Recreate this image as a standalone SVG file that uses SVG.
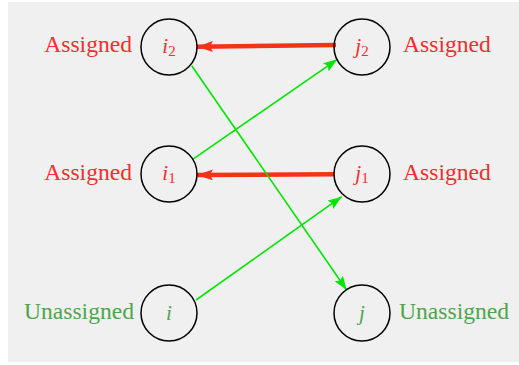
<svg xmlns="http://www.w3.org/2000/svg" width="519" height="365" viewBox="0 0 519 365">
<defs>
<style>
.node circle{fill:none;stroke:#000;stroke-width:1.5}
text{font-family:'Liberation Serif','Times New Roman',Times,'DejaVu Serif',serif}
.lbl{font-size:23.6px}
.nm{font-size:21px;font-style:italic;text-anchor:middle}
.sub{font-size:15px;font-style:normal}
.red{fill:#f52c2c}
.grn{fill:#4ca64c}
.thick{stroke:#f23318;stroke-width:4.5;fill:none}
.thin{stroke:#00e600;stroke-width:1.6;fill:none}
</style>
<marker id="ar" viewBox="0 0 16 11" refX="16" refY="5.5" markerWidth="16" markerHeight="11" markerUnits="userSpaceOnUse" orient="auto">
<path d="M0,0 L16,5.5 L0,11 L3,5.5 Z" fill="#f23318"/>
</marker>
<marker id="ag" viewBox="0 0 14 10" refX="14" refY="5" markerWidth="14" markerHeight="10" markerUnits="userSpaceOnUse" orient="auto">
<path d="M0,0 L14,5 L0,10 L2.5,5 Z" fill="#00e600"/>
</marker>
</defs>
<rect x="8" y="2" width="511" height="360" fill="#f0f0f0"/>
<g id="connectors">
<path class="thick" d="M336,45 L197,46.7" marker-end="url(#ar)"/>
<path class="thick" d="M334,174.3 L197,175" marker-end="url(#ar)"/>
<path class="thin" d="M192.7,159.3 L337.3,59.3" marker-end="url(#ag)"/>
<path class="thin" d="M191.7,65.7 L346.7,290" marker-end="url(#ag)"/>
<path class="thin" d="M196,300 L341.7,196.7" marker-end="url(#ag)"/>
</g>
<g id="i2" class="node">
<circle cx="169" cy="47" r="28"/>
<text class="nm red" x="169" y="53">i<tspan class="sub" dy="3">2</tspan></text>
<text class="lbl red" x="132" y="52" text-anchor="end">Assigned</text>
</g>
<g id="j2" class="node">
<circle cx="362" cy="47" r="28"/>
<text class="nm red" x="362" y="53">j<tspan class="sub" dy="3">2</tspan></text>
<text class="lbl red" x="403" y="52">Assigned</text>
</g>
<g id="i1" class="node">
<circle cx="169" cy="174" r="28"/>
<text class="nm red" x="169" y="180">i<tspan class="sub" dy="3">1</tspan></text>
<text class="lbl red" x="132" y="180" text-anchor="end">Assigned</text>
</g>
<g id="j1" class="node">
<circle cx="362" cy="174" r="28"/>
<text class="nm red" x="362" y="180">j<tspan class="sub" dy="3">1</tspan></text>
<text class="lbl red" x="403" y="180">Assigned</text>
</g>
<g id="i" class="node">
<circle cx="169" cy="313" r="28"/>
<text class="nm grn" x="169" y="320">i</text>
<text class="lbl grn" x="134" y="319" text-anchor="end">Unassigned</text>
</g>
<g id="j" class="node">
<circle cx="362" cy="313" r="28"/>
<text class="nm grn" x="362" y="320">j</text>
<text class="lbl grn" x="399" y="319">Unassigned</text>
</g>
</svg>
